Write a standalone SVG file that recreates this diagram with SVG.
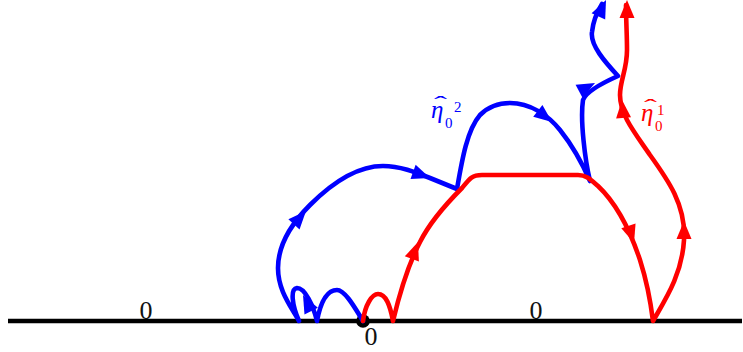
<svg xmlns="http://www.w3.org/2000/svg" xmlns:xlink="http://www.w3.org/1999/xlink" width="743" height="352" viewBox="0 0 743 352">
<style>
.c{fill:none;stroke-width:4.6;stroke-linejoin:round;stroke-linecap:round}
.b{stroke:#0000ff}
.r{stroke:#ff0000}
.bf{fill:#0000ff}
.rf{fill:#ff0000}
.t{font-family:"Liberation Serif","DejaVu Serif",serif;font-size:26px;fill:#111}
.lab{font-family:"Liberation Serif","DejaVu Serif",serif}
.m{font-style:italic;font-size:25px}
.h{font-style:normal;font-size:20px}
.i{font-style:normal;font-size:15px}
</style>
<defs>
<path id="ah" d="M0,0 L-18,-7.5 L-18,7.5 Z"/>
</defs>
<rect width="743" height="352" fill="#fff"/>
<g id="axis">
<line x1="8" y1="321" x2="742" y2="321" stroke="#000" stroke-width="4.4"/>
<circle cx="363" cy="321" r="6.8" fill="#000"/>
<text class="t" x="146" y="319" text-anchor="middle">0</text>
<text class="t" x="536" y="319" text-anchor="middle">0</text>
<text class="t" x="371" y="345" text-anchor="middle">0</text>
</g>
<g id="connectors">
<path id="blue-curve" class="c b" d="M363,321 C355,308 345,290 337,290 C328,290 321,300 317,321 C313,305 305,288 297,288 C290,289 292,305 299,321 C290,305 278,290 278,268 C278,245 290,225 310,205 C330,185 355,166 383,166 C400,166 415,172 430,178 L457,189 C462,160 467,130 480,115 C490,105 500,103 510,103 C530,103 548,115 560,130 C572,145 583,165 590,181 C585,160 580,120 583,100 C586,92 600,84 618,76 C605,62 590,45 592,32 C593,22 597,12 602,4"/>
<path id="red-curve" class="c r" d="M363,321 C365,305 372,294 378,294 C386,294 390,305 393,321 C398,300 408,265 420,242 C430,222 445,205 462,188 C470,178 472,175 482,175 L578,175 C586,175 590,179 598,186 C615,202 630,230 640,260 C648,285 651,305 653,321 C665,300 682,275 684,240 C686,205 668,180 650,155 C635,133 620,115 620,95 C620,80 627,70 627,50 C627,35 626,20 626,5"/>
<g class="bf">
<use xlink:href="#ah" transform="translate(303,295) rotate(-117)"/>
<use xlink:href="#ah" transform="translate(306,211) rotate(-48)"/>
<use xlink:href="#ah" transform="translate(430,178) rotate(20)"/>
<use xlink:href="#ah" transform="translate(552,122) rotate(38)"/>
<use xlink:href="#ah" transform="translate(595,83) rotate(-28)"/>
<use xlink:href="#ah" transform="translate(606,0) rotate(-65)"/>
</g>
<g class="rf">
<use xlink:href="#ah" transform="translate(418,242) rotate(-70)"/>
<use xlink:href="#ah" transform="translate(634,243) rotate(72)"/>
<use xlink:href="#ah" transform="translate(684,221) rotate(-90)"/>
<use xlink:href="#ah" transform="translate(622,100) rotate(-95)"/>
<use xlink:href="#ah" transform="translate(627,0) rotate(-90)"/>
</g>
</g>
<g id="label-eta2">
<text class="lab" fill="#0000ff"><tspan class="m" x="431" y="118">η</tspan><tspan class="h" x="434" y="111" textLength="13" lengthAdjust="spacingAndGlyphs">ˆ</tspan><tspan class="i" x="445" y="128">0</tspan><tspan class="i" x="454" y="112">2</tspan></text>
</g>
<g id="label-eta1">
<text class="lab" fill="#ff0000"><tspan class="m" x="641" y="121">η</tspan><tspan class="h" x="644" y="114" textLength="13" lengthAdjust="spacingAndGlyphs">ˆ</tspan><tspan class="i" x="655" y="131">0</tspan><tspan class="i" x="657" y="115">1</tspan></text>
</g>
</svg>
